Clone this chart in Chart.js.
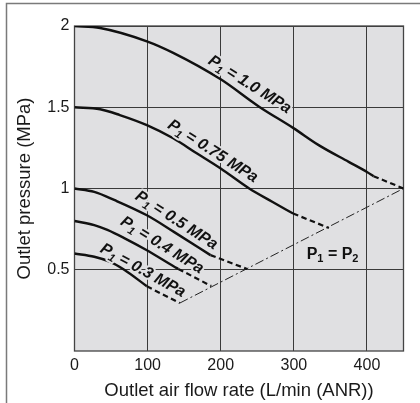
<!DOCTYPE html>
<html><head><meta charset="utf-8">
<script src="https://cdn.jsdelivr.net/npm/chart.js@4.4.1/dist/chart.umd.min.js"></script>
<style>html,body{margin:0;padding:0;background:#fff;}#wrap{width:420px;height:403px;position:relative;}</style>
</head><body><div id="wrap"><canvas id="c"></canvas></div>
<script>
// ---- axis ticks ----
const flowTicks = [0, 100, 200, 300, 400];
const pressureTicks = [0.5, 1, 1.5, 2];
const flowMax = 450;
const pressureMax = 2;

// ---- P1 = 1.0 MPa ----
const p10Flow = [0, 35, 99, 135, 200, 252, 300, 334, 375, 400, 409];
const p10Pres = [2.0, 1.988, 1.906, 1.835, 1.672, 1.505, 1.37, 1.267, 1.164, 1.102, 1.076];
const p10DashFlow = [409, 450];
const p10DashPres = [1.076, 1.0];

// ---- P1 = 0.75 MPa ----
const p075Flow = [0, 35, 62, 99, 135, 166, 200, 239, 271, 299];
const p075Pres = [1.5, 1.488, 1.452, 1.39, 1.309, 1.22, 1.123, 1.0, 0.917, 0.846];
const p075DashFlow = [299, 348];
const p075DashPres = [0.846, 0.757];

// ---- P1 = 0.5 MPa ----
const p05Flow = [0, 27, 55, 99, 137, 186];
const p05Pres = [1.0, 0.979, 0.928, 0.835, 0.73, 0.59];
const p05DashFlow = [186, 236];
const p05DashPres = [0.59, 0.505];

// ---- P1 = 0.4 MPa ----
const p04Flow = [0, 27, 45, 68, 99, 136, 142];
const p04Pres = [0.8, 0.775, 0.745, 0.695, 0.62, 0.52, 0.505];
const p04DashFlow = [142, 187];
const p04DashPres = [0.505, 0.40];

// ---- P1 = 0.3 MPa ----
const p03Flow = [0, 27, 48, 68, 99];
const p03Pres = [0.6, 0.58, 0.55, 0.50, 0.398];
const p03DashFlow = [99, 144];
const p03DashPres = [0.398, 0.295];

// ---- P1 = P2 line ----
const equalFlow = [144, 450];
const equalPres = [0.295, 1.0];

// ---- label texts ----
const curveLabelValues = ['1.0', '0.75', '0.5', '0.4', '0.3'];
// label anchors (data coords) and angles
const curveLabelPlacement = [
  {x: 240.5, y: 1.646, angle: 32.5},
  {x: 190, y: 1.236, angle: 32.5},
  {x: 140.3, y: 0.810, angle: 32.8},
  {x: 120.6, y: 0.658, angle: 32},
  {x: 94.4, y: 0.502, angle: 29}
];
const equalLabelPlacement = {x: 353, y: 0.60};

const FONT = '"Liberation Sans", Arial, Helvetica, sans-serif';
const PLOT_BG = '#e0e0e2';

function pts(xs, ys) { return xs.map((x, i) => ({x: x, y: ys[i]})); }

function solid(xs, ys) {
  return {data: pts(xs, ys), showLine: true, pointRadius: 0, borderColor: '#111', borderWidth: 2.4,
    cubicInterpolationMode: 'monotone', fill: false};
}
function dashed(xs, ys) {
  return {data: pts(xs, ys), showLine: true, pointRadius: 0, borderColor: '#111', borderWidth: 2.2,
    borderDash: [5.5, 3.5], fill: false};
}

const datasets = [
  solid(p10Flow, p10Pres), dashed(p10DashFlow, p10DashPres),
  solid(p075Flow, p075Pres), dashed(p075DashFlow, p075DashPres),
  solid(p05Flow, p05Pres), dashed(p05DashFlow, p05DashPres),
  solid(p04Flow, p04Pres), dashed(p04DashFlow, p04DashPres),
  solid(p03Flow, p03Pres), dashed(p03DashFlow, p03DashPres),
  {data: pts(equalFlow, equalPres), showLine: true, pointRadius: 0, borderColor: '#222', borderWidth: 1,
    borderDash: [9, 3, 2, 3], fill: false}
];

function drawSubText(ctx, parts, italic, size, halo) {
  const style = (italic ? 'italic ' : '') + 'bold ';
  const mainFont = style + size + 'px ' + FONT;
  const subFont = style + Math.round(size * 0.68) + 'px ' + FONT;
  let w = 0;
  const widths = parts.map(p => { ctx.font = p.sub ? subFont : mainFont; const m = ctx.measureText(p.t).width; w += m; return m; });
  let x = -w / 2;
  const base = size * 0.36;
  parts.forEach((p, i) => {
    ctx.font = p.sub ? subFont : mainFont;
    const y = p.sub ? base + size * 0.2 : base;
    if (halo) {
      ctx.lineWidth = 4; ctx.lineJoin = 'round'; ctx.strokeStyle = PLOT_BG;
      ctx.strokeText(p.t, x, y);
    }
    ctx.fillStyle = '#111';
    ctx.fillText(p.t, x, y);
    x += widths[i];
  });
}

const decor = {
  id: 'decor',
  beforeDraw(chart) {
    const ctx = chart.ctx, a = chart.chartArea;
    ctx.save();
    ctx.fillStyle = '#fff';
    ctx.fillRect(0, 0, chart.width, chart.height);
    ctx.strokeStyle = '#7a7a7a';
    ctx.lineWidth = 1.5;
    ctx.beginPath();
    ctx.moveTo(420, 3.5); ctx.lineTo(6.5, 3.5); ctx.lineTo(6.5, 403);
    ctx.stroke();
    ctx.fillStyle = PLOT_BG;
    ctx.fillRect(a.left, a.top, a.right - a.left, a.bottom - a.top);
    ctx.restore();
  },
  beforeDatasetsDraw(chart) {
    const ctx = chart.ctx, a = chart.chartArea;
    ctx.save();
    ctx.strokeStyle = '#444';
    ctx.lineWidth = 1.3;
    ctx.strokeRect(a.left, a.top, a.right - a.left, a.bottom - a.top);
    ctx.restore();
  },
  afterDatasetsDraw(chart) {
    const ctx = chart.ctx, xs = chart.scales.x, ys = chart.scales.y, a = chart.chartArea;
    ctx.save();
    ctx.textBaseline = 'alphabetic';
    ctx.textAlign = 'left';
    curveLabelValues.forEach((v, i) => {
      const pl = curveLabelPlacement[i];
      ctx.save();
      ctx.translate(xs.getPixelForValue(pl.x), ys.getPixelForValue(pl.y));
      ctx.rotate(pl.angle * Math.PI / 180);
      drawSubText(ctx, [{t: 'P'}, {t: '1', sub: true}, {t: ' = ' + v + ' MPa'}], true, 16, true);
      ctx.restore();
    });
    ctx.save();
    ctx.translate(xs.getPixelForValue(equalLabelPlacement.x), ys.getPixelForValue(equalLabelPlacement.y));
    drawSubText(ctx, [{t: 'P'}, {t: '1', sub: true}, {t: ' = P'}, {t: '2', sub: true}], false, 16, true);
    ctx.restore();
    // axis titles
    ctx.fillStyle = '#1a1a1a';
    ctx.font = '18.5px ' + FONT;
    ctx.textAlign = 'center';
    ctx.textBaseline = 'alphabetic';
    ctx.fillText('Outlet air flow rate (L/min (ANR))', (a.left + a.right) / 2, 395.5);
    ctx.save();
    ctx.translate(29.5, 188.5);
    ctx.rotate(-Math.PI / 2);
    ctx.fillText('Outlet pressure (MPa)', 0, 0);
    ctx.restore();
    ctx.restore();
  }
};

new Chart(document.getElementById('c'), {
  type: 'scatter',
  data: {datasets: datasets},
  options: {
    responsive: true,
    maintainAspectRatio: false,
    animation: false,
    layout: {padding: {left: 0, top: 26, right: 16.5, bottom: 0}},
    plugins: {legend: {display: false}, tooltip: {enabled: false}},
    scales: {
      x: {
        type: 'linear', min: 0, max: flowMax,
        afterBuildTicks: s => { s.ticks = flowTicks.map(v => ({value: v})); },
        afterFit: s => { s.height = 52; },
        grid: {color: '#3a3a3a', lineWidth: 1, drawTicks: false},
        border: {display: false},
        ticks: {color: '#1a1a1a', font: {family: FONT, size: 16}, padding: 5, maxRotation: 0, autoSkip: false,
          callback: v => String(v)}
      },
      y: {
        type: 'linear', min: 0, max: pressureMax,
        afterBuildTicks: s => { s.ticks = pressureTicks.map(v => ({value: v})); },
        afterFit: s => { s.width = 74.5; },
        grid: {color: '#3a3a3a', lineWidth: 1, drawTicks: false},
        border: {display: false},
        ticks: {color: '#1a1a1a', font: {family: FONT, size: 16}, padding: 5, autoSkip: false,
          callback: v => String(v)}
      }
    }
  },
  plugins: [decor]
});
</script></body></html>
